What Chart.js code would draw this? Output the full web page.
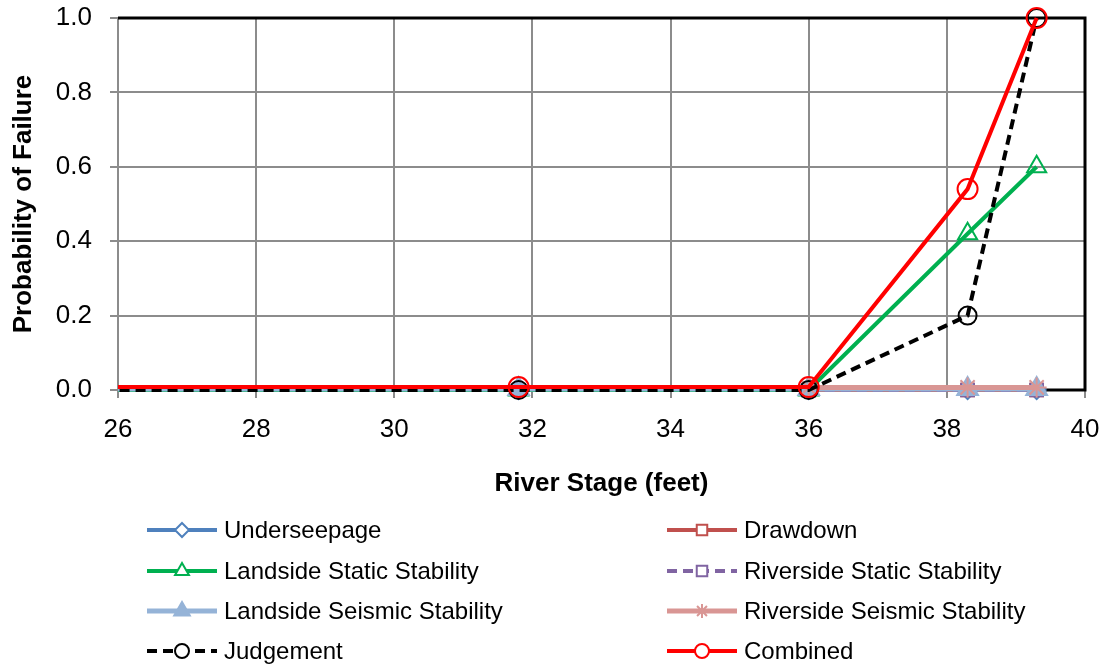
<!DOCTYPE html>
<html>
<head>
<meta charset="utf-8">
<title>Probability of Failure</title>
<script src="https://cdn.jsdelivr.net/npm/chart.js@4"></script>
<style>
    html, body { margin: 0; padding: 0; background: #fff; }
    #wrap { width: 1102px; height: 665px; }
</style>
</head>
<body>
<div id="wrap"><canvas id="myChart" width="1102" height="665"></canvas></div>
<script>
// du lieu doc tu hinh
var riverStage = [20, 31.8, 36, 38.3, 39.3];
var underseepage = [0, 0, 0, 0, 0];
var drawdown = [null, null, 0, 0, 0];
var landsideStatic = [0, 0, 0, 0.42, 0.6];
var riversideStatic = [null, null, 0, 0, 0];
var landsideSeismic = [0.003, 0.003, 0.003, 0.003, 0.003];
var riversideSeismic = [null, null, 0.007, 0.007, 0.007];
var judgement = [0, 0, 0, 0.2, 1.0];
var combined = [0.008, 0.008, 0.008, 0.54, 1.0];

var xTicks = [26, 28, 30, 32, 34, 36, 38, 40];
var yTicks = [0, 0.2, 0.4, 0.6, 0.8, 1.0];

var FONT = "'Liberation Sans', Arial, sans-serif";

function toPoints(ys) {
    var pts = [];
    for (var i = 0; i < riverStage.length; i++) {
        if (ys[i] !== null) pts.push({ x: riverStage[i], y: ys[i] });
    }
    return pts;
}

function makeSet(label, ys, color, style, opts) {
    opts = opts || {};
    return {
        label: label,
        data: toPoints(ys),
        borderColor: color,
        borderWidth: opts.width || 4,
        borderDash: opts.dash || [],
        pointStyle: style,
        pointRadius: opts.radius || 9,
        pointBorderColor: color,
        pointBorderWidth: 2,
        pointBackgroundColor: opts.filled ? color : 'rgba(0,0,0,0)',
        order: opts.order,
        // cat ben trai, cho phep marker tran xuong duoi truc
        clip: { left: 0, top: 15, right: 15, bottom: 15 },
        _filled: !!opts.filled,
        _legendRadius: opts.legendRadius || 7,
        tension: 0
    };
}

// thu tu giong chu thich (2 cot)
var datasets = [
    makeSet('Underseepage', underseepage, '#4F81BD', 'rectRot', { order: 7 }),
    makeSet('Drawdown', drawdown, '#C0504D', 'rect', { order: 6, radius: 9 }),
    makeSet('Landside Static Stability', landsideStatic, '#00B050', 'triangle', { order: 5, radius: 11, legendRadius: 8 }),
    makeSet('Riverside Static Stability', riversideStatic, '#8064A2', 'rect', { order: 4, dash: [10, 6], radius: 9 }),
    makeSet('Landside Seismic Stability', landsideSeismic, '#95B3D7', 'triangle', { order: 3, filled: true, radius: 12, legendRadius: 9, width: 5 }),
    makeSet('Riverside Seismic Stability', riversideSeismic, '#D99694', 'star', { order: 2, radius: 10, width: 5 }),
    makeSet('Judgement', judgement, '#000000', 'circle', { order: 1, dash: [10, 6] }),
    makeSet('Combined', combined, '#FF0000', 'circle', { order: 0, radius: 10 })
];

function drawMarker(ctx, style, x, y, r) {
    ctx.beginPath();
    if (style == 'circle') {
        ctx.arc(x, y, r, 0, Math.PI * 2);
    } else if (style == 'triangle') {
        for (var k = 0; k < 3; k++) {
            var a = k * Math.PI * 2 / 3;
            var px = x + Math.sin(a) * r, py = y - Math.cos(a) * r;
            if (k == 0) ctx.moveTo(px, py); else ctx.lineTo(px, py);
        }
        ctx.closePath();
    } else if (style == 'rect') {
        var s = r * 0.75;
        ctx.rect(x - s, y - s, s * 2, s * 2);
    } else if (style == 'rectRot') {
        ctx.moveTo(x, y - r); ctx.lineTo(x + r, y); ctx.lineTo(x, y + r); ctx.lineTo(x - r, y);
        ctx.closePath();
    } else if (style == 'star') {
        for (var j = 0; j < 4; j++) {
            var b = j * Math.PI / 4;
            ctx.moveTo(x + Math.cos(b) * r, y + Math.sin(b) * r);
            ctx.lineTo(x - Math.cos(b) * r, y - Math.sin(b) * r);
        }
    }
    if (style != 'star') ctx.fill();
    ctx.stroke();
}

// bo phan dem tu nhan truc, de vung ve dung kich thuoc
function noOverflow(scale) {
    scale.paddingTop = 0;
    scale.paddingBottom = 0;
    scale.paddingLeft = 0;
    scale.paddingRight = 0;
}

// khung vien den cua vung ve
var framePlugin = {
    id: 'frame',
    beforeDatasetsDraw: function (chart) {
        var a = chart.chartArea, ctx = chart.ctx;
        ctx.save();
        ctx.strokeStyle = '#000';
        ctx.lineWidth = 3;
        ctx.beginPath();
        ctx.moveTo(a.left, a.top);
        ctx.lineTo(a.right, a.top);
        ctx.lineTo(a.right, a.bottom);
        ctx.lineTo(a.left, a.bottom);
        ctx.stroke();
        ctx.restore();
    }
};

// chu thich 2 cot ben duoi
var legendPlugin = {
    id: 'legend2col',
    afterDraw: function (chart) {
        var ctx = chart.ctx;
        var sets = chart.data.datasets;
        var colX = [147, 667];
        var rowY = [530, 571, 611, 651];
        ctx.save();
        for (var i = 0; i < sets.length; i++) {
            var ds = sets[i];
            var x0 = colX[i % 2], y0 = rowY[Math.floor(i / 2)];
            ctx.strokeStyle = ds.borderColor;
            ctx.lineWidth = ds.borderWidth;
            ctx.setLineDash(ds.borderDash);
            ctx.beginPath();
            ctx.moveTo(x0, y0);
            ctx.lineTo(x0 + 70, y0);
            ctx.stroke();
            ctx.setLineDash([]);
            ctx.lineWidth = 2;
            ctx.fillStyle = ds._filled ? ds.borderColor : '#fff';
            drawMarker(ctx, ds.pointStyle, x0 + 35, y0, ds._legendRadius);
            ctx.fillStyle = '#000';
            ctx.font = '24px ' + FONT;
            ctx.textBaseline = 'middle';
            ctx.textAlign = 'left';
            ctx.fillText(ds.label, x0 + 77, y0 + 1);
        }
        ctx.restore();
    }
};

var ctx = document.getElementById('myChart').getContext('2d');
var myChart = new Chart(ctx, {
    type: 'line',
    data: { datasets: datasets },
    plugins: [framePlugin, legendPlugin],
    options: {
        responsive: false,
        animation: false,
        layout: { padding: { top: 18, right: 17, bottom: 165, left: 0 } },
        plugins: { legend: { display: false }, tooltip: { enabled: false } },
        scales: {
            x: {
                type: 'linear',
                min: xTicks[0],
                max: xTicks[xTicks.length - 1],
                afterBuildTicks: function (scale) {
                    scale.ticks = xTicks.map(function (v) { return { value: v }; });
                },
                afterFit: function (scale) { scale.height = 110; noOverflow(scale); },
                grid: { color: '#8c8c8c', lineWidth: 2, tickLength: 8, drawOnChartArea: true },
                border: { color: '#8c8c8c', width: 2 },
                ticks: { color: '#000', font: { family: FONT, size: 26 }, padding: 16, maxRotation: 0 },
                title: {
                    display: true,
                    text: 'River Stage (feet)',
                    color: '#000',
                    font: { family: FONT, size: 26, weight: 'bold' },
                    padding: { top: 0, bottom: 1 }
                }
            },
            y: {
                min: 0,
                max: 1,
                afterBuildTicks: function (scale) {
                    scale.ticks = yTicks.map(function (v) { return { value: v }; });
                },
                afterFit: function (scale) { scale.width = 118; noOverflow(scale); },
                grid: { color: '#8c8c8c', lineWidth: 2, tickLength: 8 },
                border: { color: '#8c8c8c', width: 2 },
                ticks: {
                    color: '#000',
                    font: { family: FONT, size: 26 },
                    padding: 18,
                    callback: function (v) { return Number(v).toFixed(1); }
                },
                title: {
                    display: true,
                    text: 'Probability of Failure',
                    color: '#000',
                    font: { family: FONT, size: 26, weight: 'bold' },
                    padding: { top: 8, bottom: 0 }
                }
            }
        }
    }
});
</script>
</body>
</html>
